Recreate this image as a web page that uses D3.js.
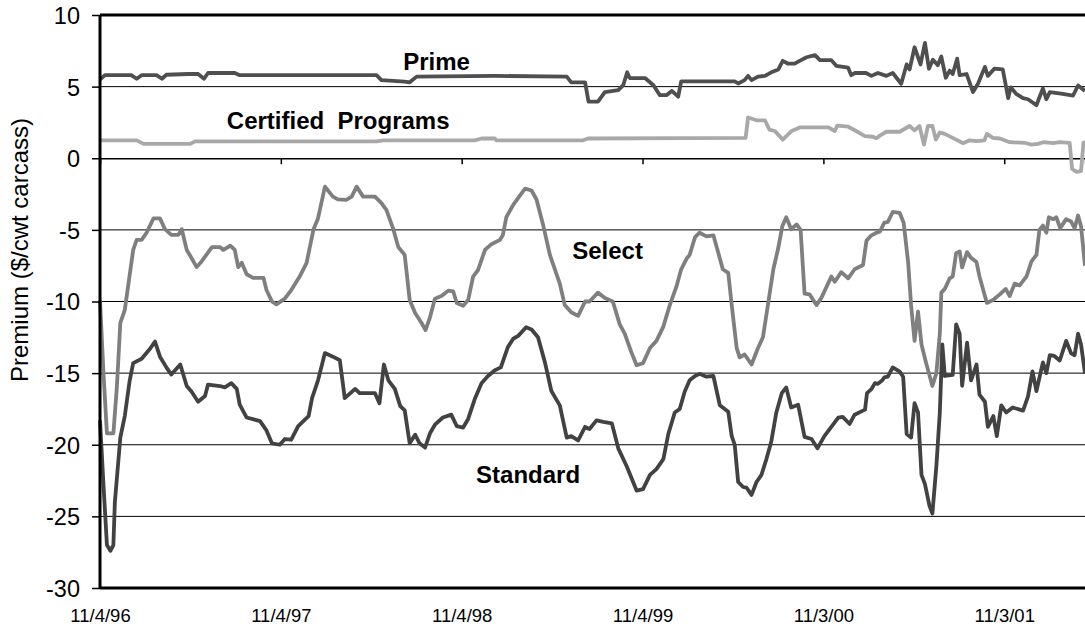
<!DOCTYPE html>
<html>
<head>
<meta charset="utf-8">
<script src="https://cdn.jsdelivr.net/npm/d3@7"></script>
<style>
  body { margin: 0; background: #fff; }
  svg { display: block; font-family: "Liberation Sans", Arial, sans-serif; }
</style>
</head>
<body>
<div id="chart"></div>
<script>
// weeks after 11/4/96, premium in $/cwt carcass
const prime = [[0,5.5],[1.4,5.8],[9,5.8],[10.6,5.55],[12,5.8],[16.3,5.8],[17.8,5.55],[19.2,5.83],[25.5,5.88],[28.3,5.88],[30,5.55],[31.2,5.95],[38.9,5.95],[40.3,5.8],[79.7,5.8],[81.2,5.45],[87.9,5.35],[89.3,5.3],[91.3,5.7],[113.8,5.75],[134.5,5.7],[135.9,5.3],[139.8,5.3],[140.9,3.95],[143.6,3.95],[145.5,4.62],[149.4,4.75],[150.8,5.1],[152,6.0],[152.7,5.6],[157.1,5.6],[159.5,5.1],[161.4,4.4],[163.3,4.4],[164.8,4.7],[166.7,4.3],[167.6,5.36],[183,5.36],[184,5.22],[185.9,5.45],[186.9,5.75],[187.8,5.45],[189.7,5.7],[191.7,5.75],[193.6,6.0],[195.5,6.2],[196.9,6.8],[198.4,6.6],[200.3,6.6],[201.7,6.8],[203.7,7.05],[206.1,7.2],[207.5,6.85],[210.9,6.85],[212.3,6.45],[215.7,6.32],[216.6,5.8],[217.6,5.95],[220.9,5.95],[222.4,5.75],[224.3,5.95],[226.7,5.75],[228.5,5.95],[231,5.2],[232.5,6.55],[233.4,6.2],[234.9,7.75],[236.5,6.55],[237.8,8.05],[239,6.25],[240.2,6.88],[241.6,6.5],[242.6,7.1],[243.8,5.62],[245,6.12],[245.9,5.88],[247.1,6.95],[247.9,5.8],[249.8,5.88],[251.7,4.62],[253.1,5.2],[255.1,6.38],[256,5.75],[257.9,6.25],[260.3,6.2],[261.8,4.2],[262.6,4.95],[264.2,4.5],[266.1,4.2],[267.5,4.12],[270,3.7],[271.9,4.88],[272.8,4.12],[273.8,4.62],[277.6,4.5],[280.5,4.38],[282,5.08],[284,4.7]];

const certified = [[0,1.25],[10.6,1.25],[12.5,1.0],[26,1.0],[27.4,1.18],[79.7,1.18],[81.7,1.25],[108,1.25],[110,1.38],[113.8,1.38],[114.3,1.25],[139.3,1.25],[140.7,1.38],[168.6,1.4],[186.2,1.42],[186.9,2.85],[189.3,2.65],[191.7,2.65],[193,2.0],[194.5,1.9],[196.8,1.3],[199.3,1.88],[201.7,2.15],[210,2.15],[211.8,1.9],[212.6,2.28],[215.7,2.2],[218,1.9],[220.5,1.55],[222.9,1.5],[223.8,1.4],[224.8,1.58],[226.7,1.85],[230.6,1.85],[233.4,2.25],[234.9,1.95],[236.3,2.25],[237.6,0.95],[238.7,2.25],[240,2.25],[241,1.3],[242.1,1.8],[243.5,1.7],[246.9,1.3],[248.8,1.05],[250.7,1.25],[252.7,1.2],[255,1.25],[255.7,1.7],[257.4,1.42],[259.4,1.38],[262.3,1.12],[266.6,1.08],[268.5,0.95],[270.4,1.0],[272,1.12],[274.9,1.05],[276.7,1.12],[279.6,1.08],[280.3,-0.75],[281.5,-0.95],[282.9,-0.9],[283.6,1.1],[284,1.12]];

const select = [[0,-9.9],[1,-15],[2,-19.2],[3.8,-19.2],[4.8,-16],[5.8,-11.5],[7.2,-10.6],[9.6,-6.4],[10.6,-5.7],[12,-5.7],[13.4,-5.2],[15.4,-4.2],[17.3,-4.2],[18.7,-4.95],[20.6,-5.35],[22.6,-5.35],[23.5,-4.95],[25,-6.4],[26,-6.8],[27.9,-7.6],[29.3,-7.2],[32.3,-6.2],[34.6,-6.2],[35.6,-6.4],[37.5,-6.1],[38.9,-6.4],[39.9,-7.6],[40.8,-7.3],[42.3,-8.1],[44.2,-8.35],[47.1,-8.35],[48,-9.2],[49.5,-10.0],[50.9,-10.2],[53.3,-9.8],[55.2,-9.2],[57.6,-8.26],[59.5,-7.3],[61.5,-4.95],[62.9,-4.2],[64.8,-1.98],[67.2,-2.68],[68.6,-2.87],[71,-2.9],[72.5,-2.68],[74,-1.98],[75.9,-2.68],[79.3,-2.68],[81.2,-3.13],[82.6,-3.6],[84.5,-4.95],[86,-6.2],[87.9,-6.75],[89.3,-9.9],[90.8,-10.8],[92.7,-11.5],[93.9,-12.0],[95.1,-11.1],[96.5,-9.8],[98.5,-9.6],[100.4,-9.24],[101.8,-9.3],[102.8,-10.1],[104.7,-10.3],[106.2,-9.9],[107.6,-8.26],[109,-7.8],[111,-6.4],[112.9,-6.0],[115.3,-5.7],[116.2,-5.38],[117.2,-4.12],[119.1,-3.25],[121,-2.62],[122.5,-2.12],[124.4,-2.25],[125.9,-2.88],[127.8,-4.75],[129.7,-6.75],[132.6,-8.75],[134,-10.25],[135.9,-10.75],[137.9,-11],[139.8,-10],[141.2,-10],[143.6,-9.38],[145.5,-9.75],[147.9,-10],[149.9,-11.6],[151.3,-12.25],[153.2,-13.5],[154.7,-14.45],[156.6,-14.3],[158.5,-13.25],[160.4,-12.75],[162.4,-11.75],[164.3,-10.25],[166.2,-9.0],[167.6,-7.75],[169.1,-7.0],[170,-6.75],[171.5,-5.5],[172.9,-5.2],[174.8,-5.45],[176.8,-5.38],[178.2,-6.5],[179.6,-7.75],[181.1,-8.0],[182.1,-10.25],[183.5,-13.25],[184.4,-13.9],[185.9,-13.7],[187.8,-14.4],[189.7,-13.25],[191.2,-12.5],[192.6,-10.25],[194.1,-7.75],[195.5,-6.25],[196.7,-4.75],[197.9,-4.12],[199.3,-4.95],[200.8,-4.62],[202,-5.0],[203.2,-9.45],[204.6,-9.5],[206.5,-10.25],[208,-9.75],[210.9,-8.25],[211.8,-8.62],[213.7,-7.95],[215.7,-8.38],[217.6,-7.75],[220,-7.45],[221,-5.75],[222.4,-5.38],[223.8,-5.2],[224.8,-5.12],[226.2,-4.5],[227.2,-4.45],[228.6,-3.75],[230.6,-3.82],[231.7,-4.5],[233,-7.25],[233.9,-10.25],[234.9,-12.75],[235.8,-10.7],[236.8,-13],[238.2,-14.25],[240,-15.9],[241.1,-15],[242.1,-12.25],[242.6,-9.38],[243.5,-9.12],[245,-8.38],[245.9,-8.25],[246.9,-6.62],[247.9,-6.5],[248.6,-7.62],[250,-6.55],[251.2,-6.95],[252.7,-7.25],[253.6,-8.25],[255.7,-10.1],[257.5,-9.88],[259.4,-9.5],[261.1,-9.12],[262.3,-9.62],[263.7,-8.75],[265.1,-8.88],[267.1,-8.25],[268.5,-7.2],[270,-6.75],[270.9,-5.0],[271.9,-4.7],[272.8,-5.2],[273.6,-4.12],[274.8,-4.25],[275.7,-4.12],[276.9,-4.88],[278.6,-4.25],[280,-4.42],[281,-4.88],[282,-4.0],[282.9,-4.75],[284,-7.5]];

const standard = [[0,-18.3],[1,-22.8],[2,-27],[3,-27.4],[3.8,-27],[4.3,-24],[5.8,-19.5],[7.2,-18],[8.6,-15.5],[9.6,-14.3],[12,-14.0],[14.4,-13.3],[15.9,-12.8],[17.3,-13.85],[19.2,-14.6],[20.6,-15.1],[23.1,-14.4],[25,-15.9],[26.4,-16.3],[28.3,-17.0],[30.3,-16.6],[31.2,-15.8],[34.6,-15.9],[36,-16.0],[37.9,-15.7],[39.4,-16.1],[40.3,-17.2],[42.3,-18.1],[46.1,-18.35],[48,-19.0],[49.5,-19.9],[51.9,-20.0],[53.3,-19.6],[55.2,-19.65],[57.2,-18.7],[60.1,-18.0],[61.1,-16.75],[62.9,-15.5],[64.8,-13.6],[67.2,-13.85],[69.1,-14.1],[70.6,-16.75],[73.5,-16.1],[74.9,-16.4],[79.3,-16.4],[80.5,-17.1],[81.8,-14.4],[83.1,-15.5],[85,-16.1],[86.5,-17.3],[87.9,-17.6],[89.3,-19.9],[90.8,-19.3],[92.2,-19.9],[93.7,-20.2],[95.1,-19.2],[96.5,-18.6],[98.9,-18.1],[101.3,-17.9],[102.8,-18.7],[104.7,-18.8],[106.2,-18.2],[108.1,-16.75],[110,-15.7],[111.9,-15.2],[113.8,-14.8],[115.5,-14.6],[117.5,-13.2],[119.1,-12.6],[120.6,-12.4],[122.8,-11.8],[124.4,-11.95],[126.3,-12.5],[128.3,-14.25],[130.2,-16.25],[132.6,-17.25],[134.5,-19.5],[135.9,-19.4],[137.9,-19.7],[139.8,-18.75],[141.2,-18.9],[143.1,-18.3],[145.1,-18.4],[147.5,-18.5],[149.4,-20.25],[151.8,-21.5],[154.7,-23.2],[156.6,-23.1],[158.5,-22.1],[160.4,-21.7],[162.4,-21.0],[163.8,-19.25],[165.7,-17.75],[167.2,-17.5],[168.6,-16.3],[170,-15.5],[171.5,-15.2],[172.9,-15.05],[174.8,-15.25],[176.8,-15.2],[178.7,-17.25],[181.1,-17.7],[182.1,-19.4],[183,-20],[184,-22.6],[185.4,-22.95],[186.4,-23],[187.8,-23.5],[189.3,-22.6],[190.7,-22.1],[192.1,-21],[193.6,-19.75],[195,-17.75],[196.5,-16.4],[197.9,-16],[199.3,-17.4],[201.3,-17.2],[203.2,-19.45],[205.1,-19.6],[206.8,-20.25],[208.9,-19.4],[210.9,-18.75],[212.8,-18.1],[214.2,-18.05],[216.2,-18.55],[217.6,-17.9],[220.5,-17.55],[221.2,-16.4],[222.4,-16.12],[223.4,-15.7],[224.3,-15.75],[225.5,-15.5],[226.2,-15.3],[227.2,-15.25],[228.6,-14.6],[230.6,-14.9],[231.5,-15.25],[232.5,-19.25],[233.9,-19.5],[234.9,-17.1],[235.8,-17.75],[236.8,-22.1],[237.8,-22.75],[239.2,-24.25],[240,-24.8],[241.1,-21.5],[242.1,-17.75],[242.8,-13],[243.5,-15.2],[245.9,-15.12],[246.9,-11.6],[247.9,-12.25],[248.6,-15.88],[250,-12.88],[251.2,-15.5],[252.7,-14.4],[253.6,-16.5],[255.1,-17],[256,-18.75],[257.5,-18],[258.6,-19.4],[259.9,-17.25],[261.3,-17.75],[263.2,-17.4],[266.1,-17.62],[267.5,-16.62],[268.8,-14.88],[270,-16.25],[271.9,-14.25],[272.8,-15],[273.8,-13.75],[275.2,-13.8],[276.7,-14.12],[278.6,-12.75],[280,-13.62],[281,-13.75],[282,-12.25],[282.9,-13],[284,-15]];

const yTicks = [10, 5, 0, -5, -10, -15, -20, -25, -30];
const xTickLabels = ["11/4/96", "11/4/97", "11/4/98", "11/4/99", "11/3/00", "11/3/01"];
const lastWeek = 284;
// label anchors: [text, week, value]
const seriesLabels = [["Prime", 87.4, 6.16], ["Certified  Programs", 36.6, 2.04], ["Select", 136.1, -7.0], ["Standard", 108.4, -22.68]];

const margin = {top: 15, right: 0, bottom: 41, left: 100};
const width = 1085 - margin.left - margin.right;
const height = 629 - margin.top - margin.bottom;

const parseDate = d3.timeParse("%m/%d/%y");
const start = parseDate(xTickLabels[0]);
const weekDate = w => d3.timeDay.offset(start, Math.round(w * 7));

const svg = d3.select("#chart").append("svg")
  .attr("width", width + margin.left + margin.right)
  .attr("height", height + margin.top + margin.bottom);

const g = svg.append("g")
  .attr("transform", "translate(" + margin.left + "," + margin.top + ")");

const x = d3.scaleTime().domain([start, weekDate(lastWeek)]).range([0, width]);
const y = d3.scaleLinear().domain([-30, 10]).range([height, 0]);

// horizontal gridlines
g.append("g")
  .selectAll("line")
  .data(yTicks.filter(d => d !== 10 && d !== -30 && d !== 0))
  .enter().append("line")
    .attr("x1", 0).attr("x2", width)
    .attr("y1", d => y(d)).attr("y2", d => y(d))
    .attr("stroke", "#000").attr("stroke-width", 1);

// category axis crosses at zero, ticks hang below it
const xZero = g.append("g")
  .attr("transform", "translate(0," + y(0) + ")")
  .call(d3.axisBottom(x).tickValues(xTickLabels.map(parseDate)).tickSize(6).tickFormat(""));
xZero.select(".domain").attr("stroke", "#000").attr("stroke-width", 1.3);
xZero.selectAll(".tick line").attr("stroke", "#000").attr("stroke-width", 1.5);

const line = d3.line()
  .x(d => x(weekDate(d[0])))
  .y(d => y(d[1]));

const series = [
  {name: "Certified", values: certified, color: "#a8a8a8"},
  {name: "Prime", values: prime, color: "#4f4f4f"},
  {name: "Select", values: select, color: "#7f7f7f"},
  {name: "Standard", values: standard, color: "#424242"}
];

g.selectAll(".series")
  .data(series).enter()
  .append("path")
    .attr("class", "series")
    .attr("d", d => line(d.values))
    .attr("fill", "none")
    .attr("stroke", d => d.color)
    .attr("stroke-width", 3.8)
    .attr("stroke-linejoin", "round")
    .attr("stroke-linecap", "butt");

// plot frame: top, left, bottom heavy lines
g.append("line").attr("x1", 0).attr("x2", width).attr("y1", y(10)).attr("y2", y(10))
  .attr("stroke", "#000").attr("stroke-width", 3);
g.append("line").attr("x1", 0).attr("x2", width).attr("y1", y(-30)).attr("y2", y(-30))
  .attr("stroke", "#000").attr("stroke-width", 3);

const yAxis = g.append("g")
  .call(d3.axisLeft(y).tickValues(yTicks).tickSize(8).tickPadding(12).tickFormat(d3.format("d")));
yAxis.select(".domain").attr("stroke", "#000").attr("stroke-width", 3).attr("d", "M0," + y(10) + "V" + y(-30));
yAxis.selectAll(".tick line").attr("stroke", "#000").attr("stroke-width", 1.5);
yAxis.selectAll(".tick text")
  .attr("fill", "#000")
  .attr("dy", "0.36em")
  .style("font-size", "23.5px")
  .style("font-family", "'Liberation Sans', Arial, sans-serif")
  .text(d => d < 0 ? "-" + Math.abs(d) : d);

const xLabels = g.append("g")
  .attr("transform", "translate(0," + height + ")")
  .call(d3.axisBottom(x).tickValues(xTickLabels.map(parseDate)).tickSize(0).tickPadding(21)
    .tickFormat((d, i) => xTickLabels[i]));
xLabels.select(".domain").remove();
xLabels.selectAll(".tick text")
  .attr("fill", "#000")
  .style("font-size", "18.5px")
  .style("font-family", "'Liberation Sans', Arial, sans-serif");

g.selectAll(".series-label")
  .data(seriesLabels).enter()
  .append("text")
    .attr("class", "series-label")
    .attr("x", d => x(weekDate(d[1])))
    .attr("y", d => y(d[2]))
    .style("white-space", "pre")
    .style("font-size", "24px")
    .style("font-weight", "bold")
    .attr("fill", "#000")
    .text(d => d[0]);

svg.append("text")
  .attr("transform", "translate(28,250) rotate(-90)")
  .attr("text-anchor", "middle")
  .style("font-size", "24px")
  .attr("fill", "#000")
  .text("Premium ($/cwt carcass)");
</script>
</body>
</html>
